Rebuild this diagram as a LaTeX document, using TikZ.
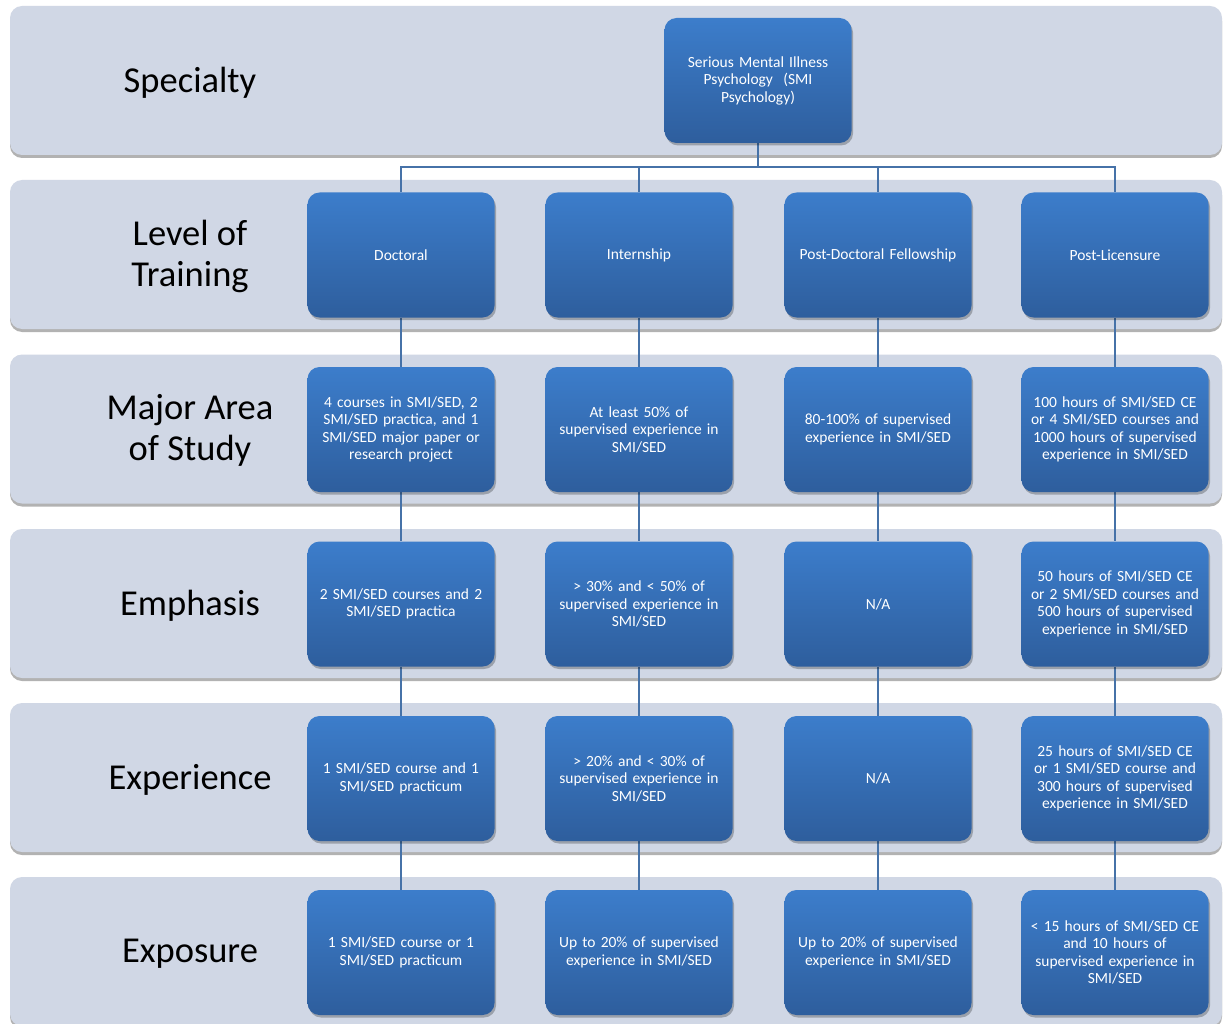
\documentclass[tikz,border=0pt]{standalone}
\usepackage{fontspec}
\setmainfont{Carlito}
\usetikzlibrary{shadows}
\definecolor{bandc}{HTML}{D0D7E5}
\definecolor{boxtop}{HTML}{3C7DCB}
\definecolor{boxbot}{HTML}{2E5E9D}
\definecolor{linec}{HTML}{4672A8}
\pgfdeclarelayer{bands}
\pgfdeclarelayer{links}
\pgfsetlayers{bands,links,main}
\tikzset{
  band/.style={rectangle, fill=bandc, rounded corners=12pt, minimum width=1212pt, minimum height=149pt, inner sep=0pt,
    drop shadow={shadow xshift=0pt, shadow yshift=-3pt, opacity=0.3, fill=black}},
  stage/.style={rectangle, rounded corners=12pt, top color=boxtop, bottom color=boxbot, draw=none,
    minimum width=187pt, minimum height=125pt, text width=186pt, text=white, align=center, inner sep=0pt,
    font=\fontsize{15.5}{17.5}\selectfont,
    drop shadow={shadow xshift=1.5pt, shadow yshift=-2.5pt, opacity=0.25, fill=black}},
  rowlabel/.style={font=\fontsize{36.5}{41}\selectfont, align=center, text=black},
  conn/.style={draw=linec, line width=1.5pt}
}
\begin{document}
\begin{tikzpicture}[x=1pt,y=-1pt]
\useasboundingbox (0,0) rectangle (1225,1024);
% bands
\begin{pgfonlayer}{bands}
\fill[white] (0,0) rectangle (1225,1024);
\node[band] (b1) at (616,80.5) {};
\node[band] (b2) at (616,254.5) {};
\node[band] (b3) at (616,429) {};
\node[band] (b4) at (616,603.5) {};
\node[band] (b5) at (616,777.5) {};
\node[band] (b6) at (616,951.5) {};
\end{pgfonlayer}
% row labels
\node[rowlabel] (l1) at (190,82.5) {Specialty};
\node[rowlabel] (l2) at (190,256) {Level of\\Training};
\node[rowlabel] (l3) at (190,430) {Major Area\\of Study};
\node[rowlabel] (l4) at (190,605.5) {Emphasis};
\node[rowlabel] (l5) at (190,779.5) {Experience};
\node[rowlabel] (l6) at (190,953.5) {Exposure};
% top
\node[stage] (top) at (758,80.5) {Serious Mental Illness\\Psychology\ \ (SMI\\Psychology)};
% column 1
\node[stage] (a2) at (401,255) {Doctoral};
\node[stage] (a3) at (401,429.5) {4 courses in SMI/SED, 2\\SMI/SED practica, and 1\\SMI/SED major paper or\\research project};
\node[stage] (a4) at (401,604) {2 SMI/SED courses and 2\\SMI/SED practica};
\node[stage] (a5) at (401,778.5) {1 SMI/SED course and 1\\SMI/SED practicum};
\node[stage] (a6) at (401,952.5) {1 SMI/SED course or 1\\SMI/SED practicum};
% column 2
\node[stage] (b2n) at (639,255) {Internship};
\node[stage] (b3n) at (639,429.5) {At least 50\% of\\supervised experience in\\SMI/SED};
\node[stage] (b4n) at (639,604) {> 30\% and < 50\% of\\supervised experience in\\SMI/SED};
\node[stage] (b5n) at (639,778.5) {> 20\% and < 30\% of\\supervised experience in\\SMI/SED};
\node[stage] (b6n) at (639,952.5) {Up to 20\% of supervised\\experience in SMI/SED};
% column 3
\node[stage] (c2) at (878,255) {Post-Doctoral Fellowship};
\node[stage] (c3) at (878,429.5) {80-100\% of supervised\\experience in SMI/SED};
\node[stage] (c4) at (878,604) {N/A};
\node[stage] (c5) at (878,778.5) {N/A};
\node[stage] (c6) at (878,952.5) {Up to 20\% of supervised\\experience in SMI/SED};
% column 4
\node[stage] (d2) at (1115,255) {Post-Licensure};
\node[stage] (d3) at (1115,429.5) {100 hours of SMI/SED CE\\or 4 SMI/SED courses and\\1000 hours of supervised\\experience in SMI/SED};
\node[stage] (d4) at (1115,604) {50 hours of SMI/SED CE\\or 2 SMI/SED courses and\\500 hours of supervised\\experience in SMI/SED};
\node[stage] (d5) at (1115,778.5) {25 hours of SMI/SED CE\\or 1 SMI/SED course and\\300 hours of supervised\\experience in SMI/SED};
\node[stage] (d6) at (1115,952.5) {< 15 hours of SMI/SED CE\\and 10 hours of\\supervised experience in\\SMI/SED};
% connectors
\coordinate (junc) at (758,167);
\begin{pgfonlayer}{links}
\draw[conn] (top.south) -- (junc);
\draw[conn] (junc) -| (a2.north);
\draw[conn] (junc) -| (b2n.north);
\draw[conn] (junc) -| (c2.north);
\draw[conn] (junc) -| (d2.north);
\draw[conn] (a2) -- (a3) -- (a4) -- (a5) -- (a6);
\draw[conn] (b2n) -- (b3n) -- (b4n) -- (b5n) -- (b6n);
\draw[conn] (c2) -- (c3) -- (c4) -- (c5) -- (c6);
\draw[conn] (d2) -- (d3) -- (d4) -- (d5) -- (d6);
\end{pgfonlayer}
\end{tikzpicture}
\end{document}
